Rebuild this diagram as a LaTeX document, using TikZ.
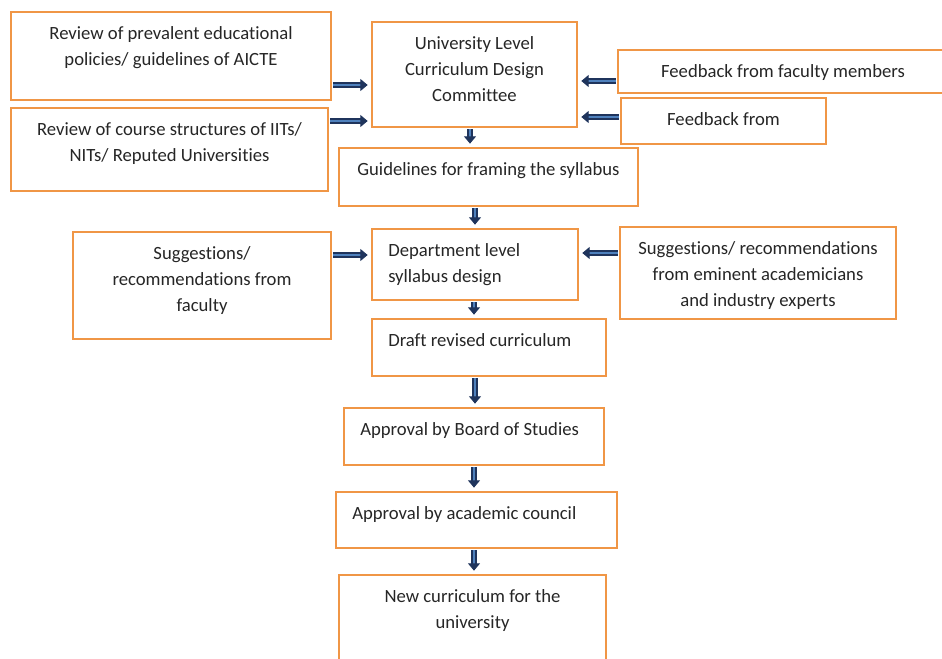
\documentclass[tikz,border=0pt]{standalone}
\usepackage{fontspec}
\setmainfont{Carlito}[Ligatures={NoCommon}]
\usetikzlibrary{arrows.meta,fit}
\definecolor{boxorange}{RGB}{240,150,70}
\definecolor{arrnavy}{RGB}{31,52,92}
\definecolor{arrblue}{RGB}{79,129,189}
\begin{document}
\begin{tikzpicture}[x=0.75pt,y=-0.75pt,
    box/.style={draw=boxorange, line width=1.5pt, inner sep=0pt},
    txt/.style={inner sep=0pt, align=center, text=black!85,
        font=\fontsize{14}{19.5}\selectfont, anchor=north, yshift=-11.25pt},
    ltxt/.style={txt, align=left, anchor=north west, xshift=12.75pt},
    arr/.style={draw=arrnavy, line width=0.8pt, double=arrblue, double distance=2.2pt,
        -{Triangle[length=5.5pt,width=9pt]}, shorten <=1pt, shorten >=2.5pt}]
    \useasboundingbox (0,0) rectangle (942,659);
    \fill[white] (0,0) rectangle (942,659);
    %inputs of the university committee
    \node[box, fit={(11,12) (331,100)}, label={[txt]north:Review of prevalent educational\\policies/ guidelines of AICTE}] (aicte) {};
    \node[box, fit={(11,108) (328,191)}, label={[txt]north:Review of course structures of IITs/\\NITs/ Reputed Universities}] (iits) {};
    \node[box, fit={(372,22) (577,127)}, label={[txt]north:University Level\\Curriculum Design\\Committee}] (ucdc) {};
    \node[box, fit={(618,50) (948,93)}, label={[txt]north:Feedback from faculty members}] (fbfac) {};
    \node[box, fit={(621,98) (826,144)}, label={[txt]north:Feedback from}] (fb) {};
    \draw[arr] (aicte.east |- 0,85) -- (ucdc.west |- 0,85);
    \draw[arr] (iits.east |- 0,121) -- (ucdc.west |- 0,121);
    \draw[arr] (fbfac.west |- 0,81) -- (ucdc.east |- 0,81);
    \draw[arr] (fb.west |- 0,117) -- (ucdc.east |- 0,117);
    %guidelines
    \node[box, fit={(339,148) (638,206)}, label={[txt]north:Guidelines for framing the syllabus}] (guide) {};
    \draw[arr] (ucdc.south -| 470,0) -- (guide.north -| 470,0);
    %department level
    \node[box, fit={(73,232) (331,339)}, label={[txt]north:Suggestions/\\recommendations from\\faculty}] (sugfac) {};
    \node[box, fit={(372,229) (578,300)}, label={[ltxt]north west:Department level\\syllabus design}] (dept) {};
    \node[box, fit={(620,227) (896,319)}, label={[txt]north:Suggestions/ recommendations\\from eminent academicians\\and industry experts}] (sugind) {};
    \draw[arr] (guide.south -| 475,0) -- (dept.north -| 475,0);
    \draw[arr] (sugfac.east |- 0,255) -- (dept.west |- 0,255);
    \draw[arr] (sugind.west |- 0,253) -- (dept.east |- 0,253);
    %approval chain
    \node[box, fit={(372,319) (606,376)}, label={[ltxt]north west:Draft revised curriculum}] (draft) {};
    \node[box, fit={(344,408) (604,465)}, label={[ltxt]north west:Approval by Board of Studies}] (bos) {};
    \node[box, fit={(336,492) (617,548)}, label={[ltxt]north west:Approval by academic council}] (acad) {};
    \node[box, fit={(339,575) (606,680)}, label={[txt]north:New curriculum for the\\university}] (newc) {};
    \draw[arr] (dept.south -| 474,0) -- (draft.north -| 474,0);
    \draw[arr] (draft.south -| 475,0) -- (bos.north -| 475,0);
    \draw[arr] (bos.south -| 474,0) -- (acad.north -| 474,0);
    \draw[arr] (acad.south -| 474,0) -- (newc.north -| 474,0);
\end{tikzpicture}
\end{document}
